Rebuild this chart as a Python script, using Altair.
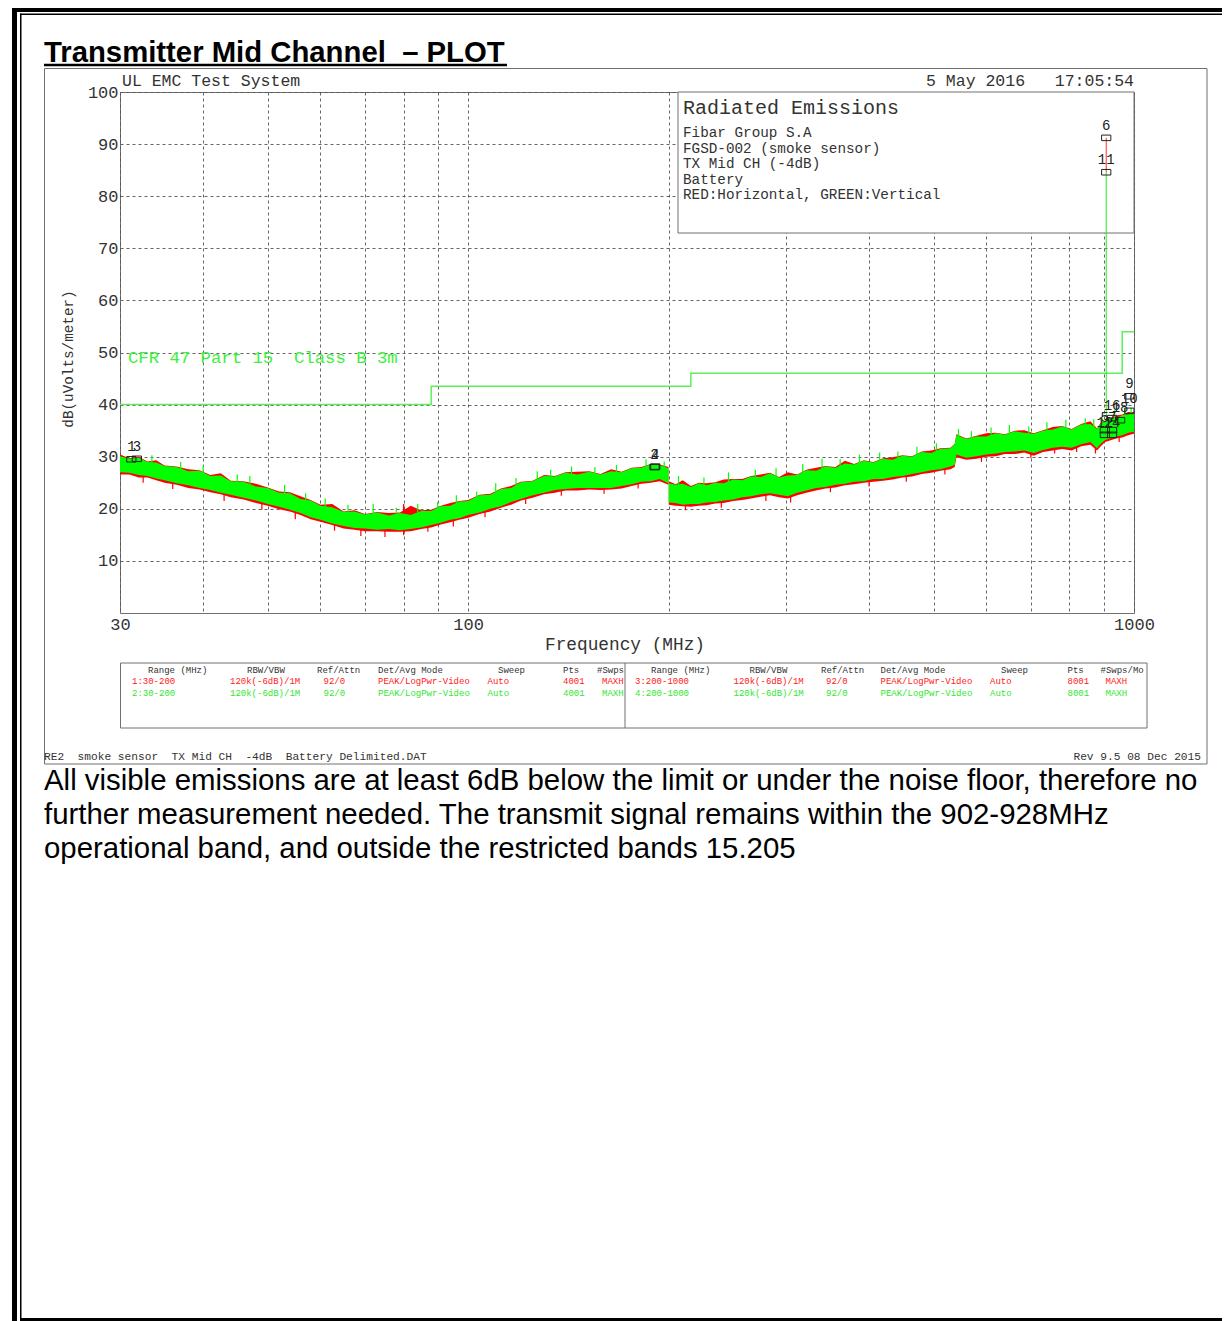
import altair as alt
import pandas as pd

# ---------------- data ----------------
# Segment 1: 30-200 MHz (trace 1 red = horizontal, trace 2 green = vertical)
seg1_freq = [30, 31, 32, 33, 34, 35, 36.5, 38, 39.5, 41, 42.5, 44, 46, 48, 50, 52, 54, 56, 58, 60,
             62.5, 65, 67.5, 70, 73, 76, 79, 82, 85, 88, 91, 94, 97, 100, 104, 108, 112, 116, 120,
             125, 130, 135, 140, 146, 152, 158, 164, 170, 176, 182, 188, 194, 199.9]
seg1_green_hi = [30.1, 29.6, 29.8, 29.0, 28.9, 28.2, 28.0, 27.2, 27.3, 26.3,
                 26.4, 25.3, 25.2, 24.3, 24.0, 23.1, 23.0, 21.9, 21.6, 20.6,
                 20.3, 19.4, 19.5, 18.9, 19.3, 18.7, 19.2, 18.8, 19.6, 19.6,
                 20.5, 20.6, 21.4, 21.5, 22.6, 22.7, 23.8, 24.0, 25.1, 25.3,
                 26.3, 26.2, 26.9, 26.6, 27.1, 26.6, 27.2, 27.0, 27.8, 27.9,
                 28.5, 28.4, 27.8]
seg1_green_lo = [27.0, 26.9, 26.5, 26.3, 25.8, 25.5, 24.9, 24.5, 24.0, 23.6,
                 23.1, 22.7, 22.1, 21.6, 20.9, 20.4, 19.8, 19.2, 18.4, 17.9,
                 17.2, 16.7, 16.3, 16.2, 16.0, 16.1, 15.9, 16.1, 16.4, 16.9,
                 17.3, 17.9, 18.2, 18.8, 19.3, 20.0, 20.5, 21.3, 21.9, 22.6,
                 23.1, 23.6, 23.8, 24.0, 24.0, 24.0, 24.0, 24.4, 24.7, 25.2,
                 25.3, 25.7, 24.9]
seg1_red_hi = [30.4, 29.7, 30.0, 29.1, 29.3, 28.3, 28.1, 27.6, 27.4, 26.5,
               26.8, 25.4, 25.3, 24.8, 24.1, 23.3, 23.2, 22.4, 21.7, 20.8,
               20.9, 19.5, 19.7, 19.0, 19.4, 19.2, 19.3, 20.6, 19.7, 19.8,
               20.6, 21.1, 21.5, 21.7, 22.7, 22.9, 23.9, 24.4, 25.2, 25.4,
               26.5, 26.3, 27.0, 27.1, 27.2, 26.7, 27.6, 27.1, 27.9, 28.0,
               28.6, 28.5, 28.0]
seg1_red_lo = [26.6, 26.6, 26.0, 26.0, 25.5, 25.0, 24.6, 24.0, 23.7, 23.2,
               22.8, 22.2, 21.8, 21.1, 20.6, 19.9, 19.5, 18.8, 18.0, 17.5,
               16.9, 16.2, 16.0, 15.7, 15.7, 15.6, 15.6, 15.7, 16.1, 16.4,
               17.0, 17.4, 17.9, 18.3, 19.0, 19.5, 20.2, 20.8, 21.6, 22.1,
               22.8, 23.1, 23.5, 23.5, 23.7, 23.6, 23.7, 23.9, 24.4, 24.8,
               25.0, 25.3, 24.6]

# Segment 2: 200-1000 MHz (trace 3 red, trace 4 green)
seg2_freq = [200.1, 205, 210, 216, 222, 228, 235, 242, 250, 258,
             266, 275, 284, 293, 302, 312, 322, 333, 344, 356,
             368, 380, 393, 406, 420, 434, 449, 464, 480, 496,
             512, 530, 538, 541, 560, 580, 600, 620, 640, 662,
             684, 707, 730, 755, 780, 806, 833, 860, 880, 890,
             905, 920, 940, 960, 980, 1000]
seg2_green_hi = [24.9, 24.6, 24.8, 24.2, 24.9, 24.5, 25.0, 24.9, 25.6, 25.5,
                 26.2, 26.1, 26.8, 26.0, 26.4, 26.5, 27.4, 27.3, 28.1, 27.9,
                 28.7, 28.5, 29.2, 28.9, 29.6, 29.4, 30.2, 30.0, 30.9, 30.7,
                 31.5, 31.6, 32.4, 34.1, 33.4, 33.9, 33.9, 34.5, 34.2, 34.9,
                 34.6, 34.4, 35.0, 35.2, 35.8, 35.2, 36.2, 36.3, 35.3, 36.3,
                 36.8, 37.3, 37.4, 38.0, 38.1, 38.5]
seg2_green_lo = [21.2, 21.1, 20.8, 20.9, 20.9, 21.2, 21.3, 21.6, 21.8, 22.2,
                 22.4, 22.8, 23.0, 22.7, 22.4, 23.1, 23.5, 24.0, 24.2, 24.6,
                 24.8, 25.2, 25.3, 25.7, 25.7, 26.1, 26.3, 26.7, 27.0, 27.4,
                 27.6, 28.1, 28.4, 30.4, 29.8, 30.1, 30.4, 30.6, 30.9, 31.0,
                 31.2, 30.7, 31.3, 31.7, 31.9, 31.7, 32.4, 32.8, 31.6, 32.4,
                 33.2, 33.5, 33.9, 34.1, 34.6, 34.8]
seg2_red_hi = [25.3, 24.7, 25.5, 24.4, 25.0, 24.9, 25.1, 25.6, 25.7, 25.7,
               26.3, 26.6, 26.9, 26.1, 27.0, 26.6, 27.5, 27.9, 28.2, 28.0,
               29.2, 28.6, 29.3, 29.0, 29.7, 29.9, 30.3, 30.1, 31.0, 31.2,
               31.6, 31.7, 32.5, 34.3, 33.5, 34.0, 34.5, 34.6, 34.3, 35.0,
               35.1, 34.5, 35.1, 35.7, 35.9, 35.3, 36.3, 36.8, 35.4, 36.4,
               36.9, 37.4, 37.9, 38.1, 38.6, 38.6]
seg2_red_lo = [20.8, 20.6, 20.5, 20.4, 20.6, 20.7, 21.0, 21.1, 21.5, 21.7,
               22.0, 22.3, 22.6, 22.2, 22.0, 22.6, 23.1, 23.5, 23.9, 24.1,
               24.5, 24.7, 25.0, 25.2, 25.4, 25.6, 26.0, 26.2, 26.7, 26.9,
               27.3, 27.6, 28.0, 29.9, 29.4, 29.6, 30.0, 30.1, 30.5, 30.5,
               30.8, 30.2, 30.9, 31.2, 31.5, 31.2, 32.0, 32.3, 31.2, 31.9,
               32.8, 33.1, 33.5, 33.7, 34.1, 34.4]

# single-sample needles sticking out of the noise band
green_needle_freq = [33.5, 37, 40, 45, 47, 53, 57, 61, 66, 72, 78, 84, 90, 96, 103, 110, 118, 127, 133,
                     143, 155, 167, 185, 197, 207, 226, 246, 270, 290, 318, 340, 362, 387, 415, 442,
                     472, 505, 545, 570, 610, 650, 695, 740, 790, 845, 870, 895, 935, 970, 990]
green_needle_base = [28.0, 26.6, 25.8, 24.2, 23.8, 22.0, 20.7, 19.5, 18.5, 18.1, 18.0, 18.3, 19.0, 20.0,
                     21.1, 22.2, 23.5, 24.8, 25.3, 25.8, 25.8, 26.1, 27.2, 27.2, 23.7, 23.7, 24.2,
                     25.1, 25.3, 26.0, 26.8, 27.3, 27.9, 28.3, 28.8, 29.4, 30.1, 32.6, 32.7, 33.2,
                     33.5, 33.5, 34.1, 34.5, 35.2, 34.8, 35.5, 36.4, 37.0, 37.3]
green_needle_top = [30.3, 29.0, 28.3, 26.6, 26.3, 24.6, 23.0, 22.0, 20.8, 20.9, 20.2, 20.9, 21.3, 22.6,
                    23.3, 24.9, 25.9, 27.2, 27.5, 28.1, 28.0, 28.4, 29.5, 29.1, 26.3, 26.0, 27.0,
                    27.5, 27.8, 28.6, 29.6, 29.5, 30.4, 30.8, 31.0, 31.9, 32.6, 35.3, 34.9, 35.6,
                    36.1, 35.8, 36.6, 37.1, 37.4, 37.2, 37.6, 38.9, 39.3, 39.4]
red_needle_freq = [32.5, 36, 43, 49, 55, 63, 69, 75, 80, 87, 95, 106, 122, 138, 160, 180,
                   212, 240, 280, 305, 350, 400, 455, 520, 590, 700, 760, 820, 875, 950]
red_needle_top = [27.4, 26.0, 23.9, 22.2, 20.5, 18.1, 17.2, 17.0, 20.9, 17.7, 19.0, 20.6, 23.2, 24.7,
                  25.1, 26.0, 21.8, 22.5, 23.9, 23.6, 25.4, 26.5, 27.4, 28.8, 31.2, 31.9, 32.7, 33.0,
                  32.8, 35.0]
red_needle_bottom = [25.0, 23.8, 21.5, 19.8, 18.0, 15.8, 14.8, 14.6, 14.9, 15.6, 16.6, 18.4, 20.9,
                     22.5, 22.9, 23.9, 19.7, 20.2, 21.5, 21.2, 23.2, 24.3, 25.2, 26.6, 29.0, 29.7,
                     30.6, 30.9, 30.6, 32.8]

# FCC Part 15 Class B 3 m limit (step-after)
limit_freq = [30, 88, 216, 960, 1000]
limit_db = [40, 43.5, 46, 54, 54]

# carrier spike
spike_freq = [908.4]
spike_base_db = [35.0]
spike_green_db = [84.6]
spike_red_db = [91.2]

# peak markers
marker_freq = [31.2, 31.8, 190.5, 191.0, 908.4, 908.4, 904, 927, 904, 927, 927, 953, 984, 984]
marker_db = [29.5, 29.6, 28.0, 28.1, 91.2, 84.6, 35.1, 35.1, 34.2, 34.2, 37.4, 37.0, 41.6, 38.8]
marker_label = ["1", "3", "2", "4", "6", "11", "5", "7", "12", "14", "16", "18", "9", "10"]

y_ticks = [10, 20, 30, 40, 50, 60, 70, 80, 90, 100]
x_grid = [30, 40, 50, 60, 70, 80, 90, 100, 200, 300, 400, 500, 600, 700, 800, 900, 1000]
x_tick_labels = [30, 100, 1000]

# texts (non-breaking spaces keep the double spaces of the original)
NB = "\u00a0"
title_text = f"Transmitter Mid Channel {NB}\u2013 PLOT"
system_text = "UL EMC Test System"
date_text = f"5 May 2016{NB}{NB}{NB}17:05:54"
box_title = "Radiated Emissions"
box_lines = ["Fibar Group S.A", "FGSD-002 (smoke sensor)", "TX Mid CH (-4dB)", "Battery",
             "RED:Horizontal, GREEN:Vertical"]
limit_text = f"CFR 47 Part 15 {NB}Class B 3m"
y_title = "dB(uVolts/meter)"
x_title = "Frequency (MHz)"
table_header_left = ["Range (MHz)", "RBW/VBW", "Ref/Attn", "Det/Avg Mode", "Sweep", "Pts", "#Swps"]
table_header_right = ["Range (MHz)", "RBW/VBW", "Ref/Attn", "Det/Avg Mode", "Sweep", "Pts", "#Swps/Mo"]
table_rows_left = [["1:30-200", "120k(-6dB)/1M", "92/0", "PEAK/LogPwr-Video", "Auto", "4001", "MAXH"],
                   ["2:30-200", "120k(-6dB)/1M", "92/0", "PEAK/LogPwr-Video", "Auto", "4001", "MAXH"]]
table_rows_right = [["3:200-1000", "120k(-6dB)/1M", "92/0", "PEAK/LogPwr-Video", "Auto", "8001", "MAXH"],
                    ["4:200-1000", "120k(-6dB)/1M", "92/0", "PEAK/LogPwr-Video", "Auto", "8001", "MAXH"]]
footer_left = f"RE2 {NB}smoke sensor {NB}TX Mid CH {NB}-4dB {NB}Battery Delimited.DAT"
footer_right = "Rev 9.5 08 Dec 2015"
paragraph = ["All visible emissions are at least 6dB below the limit or under the noise floor, therefore no",
             "further measurement needed. The transmit signal remains within the 902-928MHz",
             "operational band, and outside the restricted bands 15.205"]

# ---------------- layout / style ----------------
PX0, PY0 = 120, 92          # page position of plot origin
W, H = 1014, 521
CANVAS_W, CANVAS_H = 1214, 1313
MONO = "Liberation Mono"
SANS = "Liberation Sans"
GRAY_TXT = "#333333"
RED = "#ff0000"
GREEN = "#00ff00"
RED_TXT = "#ff2020"
GREEN_TXT = "#2ee82e"

one = pd.DataFrame({"k": [0]})


def px(x):
    return x - PX0


def py(y):
    return y - PY0


def T(txt, x, y, size, color=GRAY_TXT, font=MONO, align="left", baseline="middle", angle=0, weight="normal"):
    return alt.Chart(one).mark_text(text=txt, font=font, fontSize=size, color=color, align=align,
                                    baseline=baseline, angle=angle, fontWeight=weight).encode(
        x=alt.value(px(x)), y=alt.value(py(y)))


def R(x1, y1, x2, y2, fill=None, stroke=None, sw=1.0):
    kw = {}
    if fill is not None:
        kw["fill"] = fill
    else:
        kw["fillOpacity"] = 0
    if stroke is not None:
        kw["stroke"] = stroke
        kw["strokeWidth"] = sw
    return alt.Chart(one).mark_rect(**kw).encode(
        x=alt.value(px(x1)), x2=alt.value(px(x2)), y=alt.value(py(y1)), y2=alt.value(py(y2)))


layers = []

# page frame
layers += [
    R(12, 6, 1230, 12, fill="black"),
    R(20, 13.5, 1230, 15, fill="black"),
    R(12, 6, 17, 1321, fill="black"),
    R(20, 13.5, 21.5, 1319, fill="black"),
    R(20, 1318, 1230, 1321, fill="black"),
]

# title with underline
layers.append(T(title_text, 44, 61.5, 29.3, color="black", font=SANS, baseline="alphabetic", weight="bold"))
layers.append(alt.Chart(one).mark_rule(color="black", strokeWidth=2.5).encode(
    x=alt.value(px(44)), x2=alt.value(px(507)), y=alt.value(py(65))))

# outer plot box, legend box, table box
layers.append(R(44.5, 68.5, 1207, 764, stroke="#707070"))
layers.append(R(678, 92, 1134, 233, fill="white", stroke="#707070"))
layers.append(R(120.5, 663, 1147, 728, stroke="#707070"))
layers.append(alt.Chart(one).mark_rule(color="#707070", strokeWidth=1).encode(
    x=alt.value(px(625)), y=alt.value(py(663)), y2=alt.value(py(728))))

# ---------------- data layers ----------------
trace_df = pd.concat([
    pd.DataFrame({"freq": seg1_freq, "ghi": seg1_green_hi, "glo": seg1_green_lo,
                  "rhi": seg1_red_hi, "rlo": seg1_red_lo, "seg": "30-200"}),
    pd.DataFrame({"freq": seg2_freq, "ghi": seg2_green_hi, "glo": seg2_green_lo,
                  "rhi": seg2_red_hi, "rlo": seg2_red_lo, "seg": "200-1000"}),
])

xs = alt.Scale(type="log", domain=[30, 1000], nice=False)
ys = alt.Scale(domain=[0, 100], nice=False)

label_expr = "(" + " || ".join(f"datum.value == {v}" for v in x_tick_labels) + ") ? format(datum.value, 'd') : ''"
xaxis = alt.Axis(values=x_grid, labelExpr=label_expr, grid=True, ticks=False, domain=False,
                 labelFont=MONO, labelFontSize=17, labelColor=GRAY_TXT, labelPadding=3,
                 labelFlush=False, labelOverlap=False, gridDash=[3, 3], gridColor="#555555",
                 gridWidth=0.9, gridOpacity=1, title="")
yaxis = alt.Axis(values=y_ticks, format="d", grid=True, ticks=False, domain=False,
                 labelFont=MONO, labelFontSize=17, labelColor=GRAY_TXT, labelPadding=2,
                 labelBaseline="middle", labelOverlap=False, gridDash=[3, 3], gridColor="#555555",
                 gridWidth=0.9, gridOpacity=1, title="")


def X(field):
    return alt.X(field, type="quantitative", scale=xs, axis=xaxis)


def Y(field):
    return alt.Y(field, type="quantitative", scale=ys, axis=yaxis)


layers.append(alt.Chart(trace_df).mark_area(color=RED, opacity=1).encode(
    x=X("freq"), y=Y("rlo"), y2="rhi:Q", detail="seg:N"))

red_needles = pd.DataFrame({"freq": red_needle_freq, "lo": red_needle_bottom, "hi": red_needle_top})
layers.append(alt.Chart(red_needles).mark_rule(color=RED, strokeWidth=1.2).encode(
    x=X("freq"), y=Y("lo"), y2="hi:Q"))

layers.append(alt.Chart(trace_df).mark_area(color=GREEN, opacity=1).encode(
    x=X("freq"), y=Y("glo"), y2="ghi:Q", detail="seg:N"))

green_needles = pd.DataFrame({"freq": green_needle_freq, "lo": green_needle_base, "hi": green_needle_top})
layers.append(alt.Chart(green_needles).mark_rule(color=GREEN, strokeWidth=1.2).encode(
    x=X("freq"), y=Y("lo"), y2="hi:Q"))

limit_df = pd.DataFrame({"freq": limit_freq, "db": limit_db})
layers.append(alt.Chart(limit_df).mark_line(interpolate="step-after", color="#5cf05c", strokeWidth=1.5).encode(
    x=X("freq"), y=Y("db")))

spike_df = pd.DataFrame({"freq": spike_freq, "base": spike_base_db, "g": spike_green_db, "r": spike_red_db})
layers.append(alt.Chart(spike_df).mark_rule(color="#ff3030", strokeWidth=1).encode(
    x=X("freq"), y=Y("g"), y2="r:Q"))
layers.append(alt.Chart(spike_df).mark_rule(color="#22ee22", strokeWidth=1).encode(
    x=X("freq"), y=Y("base"), y2="g:Q"))

marker_df = pd.DataFrame({"freq": marker_freq, "db": marker_db, "lab": marker_label})
layers.append(alt.Chart(marker_df).mark_point(shape="M-1,-0.6L1,-0.6L1,0.6L-1,0.6Z", size=85, filled=False,
                                              stroke="#222222", strokeWidth=1, opacity=1).encode(
    x=X("freq"), y=Y("db")))
layers.append(alt.Chart(marker_df).mark_text(font=MONO, fontSize=14, color="#222222", dy=-12).encode(
    x=X("freq"), y=Y("db"), text="lab:N"))

# ---------------- plotter texts ----------------
layers.append(T(system_text, 122, 81, 16.5))
layers.append(T(date_text, 1134, 81, 16.5, align="right"))
layers.append(T(box_title, 683, 108, 20))
for i, line in enumerate(box_lines):
    layers.append(T(line, 683, [133, 149, 164, 180, 195][i], 14.3))
layers.append(T(limit_text, 128, 358, 17.3, color="#3cf03c"))
layers.append(T(y_title, 68.5, 359, 14.3, align="center", angle=270))
layers.append(T(x_title, 625, 645, 17.8, align="center"))

# setup table
hdr_x_left = [148, 247, 317, 378, 498, 563, 597]
row_x_left = [132, 230, 323.5, 378, 487.5, 563, 602]
hdr_x_right = [651, 749.5, 821, 880.5, 1001, 1067.5, 1100.5]
row_x_right = [635, 733.5, 826, 880.5, 990, 1067.5, 1105.5]
row_y = [681, 693]
row_col = [RED_TXT, GREEN_TXT]
for txt, x in zip(table_header_left, hdr_x_left):
    layers.append(T(txt, x, 669.5, 9))
for txt, x in zip(table_header_right, hdr_x_right):
    layers.append(T(txt, x, 669.5, 9))
for r in range(2):
    for txt, x in zip(table_rows_left[r], row_x_left):
        layers.append(T(txt, x, row_y[r], 9, color=row_col[r]))
    for txt, x in zip(table_rows_right[r], row_x_right):
        layers.append(T(txt, x, row_y[r], 9, color=row_col[r]))

layers.append(T(footer_left, 44, 756.5, 11.2))
layers.append(T(footer_right, 1201, 756.5, 11.2, align="right"))

# paragraph below the plot
for i, line in enumerate(paragraph):
    layers.append(T(line, 44, [790, 824, 858][i], 29.4, color="black", font=SANS, baseline="alphabetic"))

chart = alt.layer(*layers).properties(
    width=W, height=H,
    padding={"left": PX0 - 8, "top": PY0 - 8, "right": CANVAS_W - (PX0 - 8) - W,
             "bottom": CANVAS_H - (PY0 - 8) - H},
    autosize=alt.AutoSizeParams(type="none"),
    background="white",
).configure_view(stroke="#707070", strokeWidth=1)

chart.save("out.html", embed_options={"renderer": "svg", "actions": False})
